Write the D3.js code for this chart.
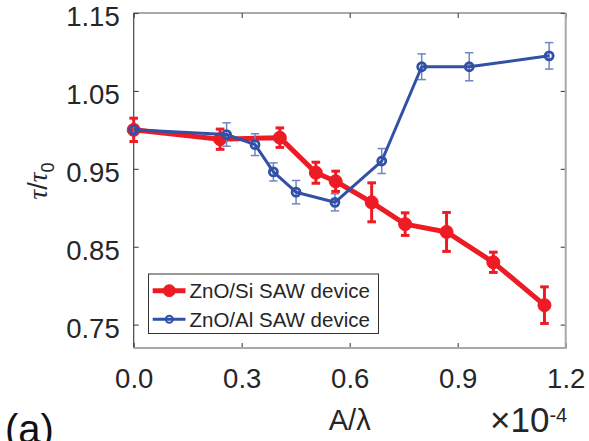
<!DOCTYPE html>
<html>
<head>
<meta charset="utf-8">
<script src="https://cdn.jsdelivr.net/npm/d3@7"></script>
<style>
  html, body { margin: 0; padding: 0; background: #fff; }
  svg { display: block; }
  text { font-family: Arial, "Liberation Sans", Helvetica, sans-serif; fill: #262626; }
</style>
</head>
<body>
<svg id="chart" width="589" height="441"></svg>
<script>
// Normalised lifetime tau/tau0 versus amplitude ratio A/lambda (x 1e-4)
const siX   = [0, 0.24, 0.406, 0.506, 0.561, 0.661, 0.754, 0.869, 0.999, 1.141];
const siY   = [1.000, 0.988, 0.990, 0.945, 0.934, 0.907, 0.879, 0.869, 0.830, 0.775];
const siErr = [0.015, 0.013, 0.0125, 0.0135, 0.013, 0.025, 0.0145, 0.025, 0.013, 0.0235];

const alX   = [0, 0.258, 0.337, 0.388, 0.451, 0.559, 0.689, 0.80, 0.932, 1.154];
const alY   = [1.000, 0.994, 0.981, 0.946, 0.920, 0.907, 0.960, 1.081, 1.081, 1.095];
const alErr = [0.004, 0.015, 0.014, 0.0116, 0.015, 0.011, 0.016, 0.0165, 0.018, 0.017];

const xTicks = [0, 0.3, 0.6, 0.9, 1.2];
const yTicks = [0.75, 0.85, 0.95, 1.05, 1.15];
const seriesNames = ["ZnO/Si SAW device", "ZnO/Al SAW device"];

const RED = "#ed1c24", BLUE = "#3150a6", BLUE_ERR = "#6f86c6";

const svg = d3.select("#chart");
const plotL = 133.7, plotR = 565.7, plotT = 13, plotB = 348;

const x = d3.scaleLinear().domain([0, 1.2]).range([plotL, plotR]);
const y = d3.scaleLinear().domain([0.72, 1.15]).range([plotB, plotT]);

// Axes with inward ticks (box style)
const axisColor = "#333";
const tickFont = 27.5;
const gx = svg.append("g").attr("transform", `translate(0,${plotB})`)
  .call(d3.axisBottom(x).tickValues(xTicks).tickFormat(d3.format(".1f")).tickSizeInner(-5).tickSizeOuter(0).tickPadding(20));
const gy = svg.append("g").attr("transform", `translate(${plotL},0)`)
  .call(d3.axisLeft(y).tickValues(yTicks).tickFormat(d3.format(".2f")).tickSizeInner(-5).tickSizeOuter(0).tickPadding(14));
const gxt = svg.append("g").attr("transform", `translate(0,${plotT})`)
  .call(d3.axisTop(x).tickValues(xTicks).tickFormat("").tickSizeInner(-5).tickSizeOuter(0));
const gyr = svg.append("g").attr("transform", `translate(${plotR},0)`)
  .call(d3.axisRight(y).tickValues(yTicks).tickFormat("").tickSizeInner(-5).tickSizeOuter(0));

[gx, gy, gxt, gyr].forEach(g => {
  g.select(".domain").remove();
  g.selectAll(".tick line").attr("stroke", axisColor).attr("stroke-width", 1);
  g.selectAll(".tick text").attr("font-size", tickFont).attr("fill", "#262626")
    .attr("font-family", "Arial, 'Liberation Sans', sans-serif");
});
// value labels sit slightly below their ticks
gy.selectAll(".tick text").attr("dy", "0.45em");

// Box frame
svg.append("line").attr("x1", plotL).attr("x2", plotL).attr("y1", plotT).attr("y2", plotB).attr("stroke", "#444").attr("stroke-width", 1.2);
svg.append("line").attr("x1", plotL).attr("x2", plotR).attr("y1", plotT).attr("y2", plotT).attr("stroke", "#555").attr("stroke-width", 1.2);
svg.append("line").attr("x1", plotR).attr("x2", plotR).attr("y1", plotT).attr("y2", plotB + 1).attr("stroke", "#a8a8a8").attr("stroke-width", 2);
svg.append("line").attr("x1", plotL).attr("x2", plotR).attr("y1", plotB).attr("y2", plotB).attr("stroke", "#a8a8a8").attr("stroke-width", 2);

const line = d3.line().x(d => x(d[0])).y(d => y(d[1]));

function drawSeries(xs, ys, es, opt) {
  const pts = xs.map((v, i) => [v, ys[i], es[i]]);
  const g = svg.append("g");
  // error bars
  const eb = g.selectAll(".eb").data(pts).join("g");
  eb.append("line").attr("x1", d => x(d[0])).attr("x2", d => x(d[0]))
    .attr("y1", d => y(d[1] - d[2])).attr("y2", d => y(d[1] + d[2]))
    .attr("stroke", opt.errColor).attr("stroke-width", opt.errWidth);
  [-1, 1].forEach(s => {
    eb.append("line").attr("x1", d => x(d[0]) - opt.cap).attr("x2", d => x(d[0]) + opt.cap)
      .attr("y1", d => y(d[1] + s * d[2])).attr("y2", d => y(d[1] + s * d[2]))
      .attr("stroke", opt.errColor).attr("stroke-width", opt.errWidth);
  });
  g.append("path").datum(pts).attr("d", line).attr("fill", "none")
    .attr("stroke", opt.color).attr("stroke-width", opt.lineWidth).attr("stroke-linejoin", "round");
  g.selectAll("circle").data(pts).join("circle")
    .attr("cx", d => x(d[0])).attr("cy", d => y(d[1])).attr("r", opt.r)
    .attr("fill", opt.fill).attr("stroke", opt.color).attr("stroke-width", opt.markerStroke);
}

drawSeries(siX, siY, siErr, { color: RED, errColor: RED, errWidth: 3, cap: 4.3, lineWidth: 5, r: 6.5, fill: RED, markerStroke: 1 });
drawSeries(alX, alY, alErr, { color: BLUE, errColor: BLUE_ERR, errWidth: 1.5, cap: 4.2, lineWidth: 3, r: 4, fill: "none", markerStroke: 2.8 });

// Legend
const lg = svg.append("g");
lg.append("rect").attr("x", 148.5).attr("y", 274).attr("width", 230).attr("height", 59.5)
  .attr("fill", "#fff").attr("stroke", "#333").attr("stroke-width", 1);
const legendRows = [
  { name: seriesNames[0], color: RED, w: 5, r: 6, fill: RED, sw: 1 },
  { name: seriesNames[1], color: BLUE, w: 3, r: 3.5, fill: "none", sw: 2 }
];
legendRows.forEach((row, i) => {
  const cy = 290.7 + i * 28.6;
  lg.append("line").attr("x1", 152.7).attr("x2", 185.5).attr("y1", cy).attr("y2", cy)
    .attr("stroke", row.color).attr("stroke-width", row.w);
  lg.append("circle").attr("cx", 169.3).attr("cy", cy).attr("r", row.r)
    .attr("fill", row.fill).attr("stroke", row.color).attr("stroke-width", row.sw);
  lg.append("text").attr("x", 189.5).attr("y", cy + 7.2).attr("font-size", 20.5).text(row.name);
});

// Axis titles
svg.append("text").attr("x", (plotL + plotR) / 2).attr("y", 430).attr("text-anchor", "middle")
  .attr("font-size", 29).text("A/λ");

const ex = svg.append("text").attr("x", 490).attr("y", 431.7).attr("font-size", 35);
ex.append("tspan").text("×10");
ex.append("tspan").attr("font-size", 20).attr("dy", -10).text("-4");

const yl = svg.append("text").attr("transform", `translate(47,181) rotate(-90)`)
  .attr("text-anchor", "middle").attr("font-size", 27);
yl.append("tspan").attr("font-family", "'Liberation Serif', 'DejaVu Serif', serif").attr("font-style", "italic").text("τ");
yl.append("tspan").text("/");
yl.append("tspan").attr("font-family", "'Liberation Serif', 'DejaVu Serif', serif").attr("font-style", "italic").text("τ");
yl.append("tspan").attr("font-size", 18).attr("dy", 7).text("0");

// Panel tag
svg.append("text").attr("x", 5).attr("y", 443).attr("font-size", 40)
  .attr("font-family", "'Liberation Serif', 'Times New Roman', serif").style("fill", "#111").text("(a)");
</script>
</body>
</html>
